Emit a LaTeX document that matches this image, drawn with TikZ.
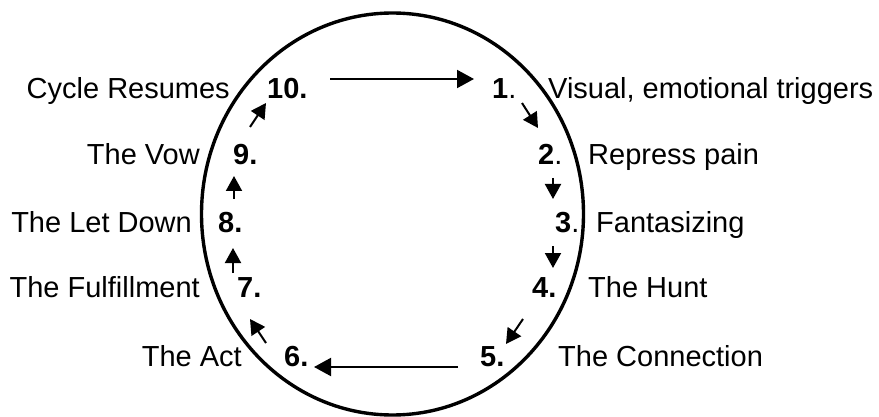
\documentclass[tikz,border=0pt]{standalone}
\usepackage{fontspec}
\setmainfont{Liberation Sans}
\usetikzlibrary{arrows.meta}
\begin{document}
\begin{tikzpicture}[x=1pt,y=-1pt,
  txt/.style={inner sep=0pt,font=\fontsize{29}{34}\selectfont},
  lbl/.style={txt,anchor=base east},
  rlbl/.style={txt,anchor=base west},
  num/.style={txt,anchor=base west},
  flow/.style={line width=2pt,-{Triangle[length=17pt,width=18pt]}},
  sflow/.style={line width=2pt,-{Triangle[length=15pt,width=16pt]}},
  ring/.style={line width=3.4pt}]
\useasboundingbox (0,0) rectangle (879,417);
\coordinate (c) at (392.5,214);
\draw[ring] (c) ellipse [x radius=191pt, y radius=201pt];
% numbers
\node[num] (n10) at (267,99) {\textbf{10.}};
\node[num] (n1) at (492,99) {\textbf{1}.};
\node[num] (n2) at (538,165) {\textbf{2}.};
\node[num] (n3) at (555,233) {\textbf{3}.};
\node[num] (n4) at (532,298) {\textbf{4.}};
\node[num] (n5) at (480,366) {\textbf{5.}};
\node[num] (n6) at (284,366) {\textbf{6.}};
\node[num] (n7) at (237,298) {\textbf{7.}};
\node[num] (n8) at (218,233) {\textbf{8.}};
\node[num] (n9) at (233,165) {\textbf{9.}};
% labels
\node[lbl] (l10) at (230,99) {Cycle Resumes};
\node[lbl] (l9) at (200,165) {The Vow};
\node[lbl] (l8) at (192,233) {The Let Down};
\node[lbl] (l7) at (200,298) {The Fulfillment};
\node[lbl] (l6) at (242,366) {The Act};
\node[rlbl] (l1) at (548,99) {Visual, emotional triggers};
\node[rlbl] (l2) at (588,165) {Repress pain};
\node[rlbl] (l3) at (596,233) {Fantasizing};
\node[rlbl] (l4) at (588,298) {The Hunt};
\node[rlbl] (l5) at (558,366) {The Connection};
% arrow end points
\coordinate (a1s) at (330,79);  \coordinate (a1e) at (474,79);
\coordinate (a2s) at (522,103); \coordinate (a2e) at (538,128);
\coordinate (a3s) at (553,178); \coordinate (a3e) at (553,199);
\coordinate (a4s) at (553,246); \coordinate (a4e) at (553,268);
\coordinate (a5s) at (523,319); \coordinate (a5e) at (506,344);
\coordinate (a6s) at (458,367); \coordinate (a6e) at (314,367);
\coordinate (a7s) at (266,343); \coordinate (a7e) at (250,319);
\coordinate (a8s) at (233,273); \coordinate (a8e) at (233,248);
\coordinate (a9s) at (234,199); \coordinate (a9e) at (234,176);
\coordinate (a10s) at (250,127); \coordinate (a10e) at (266,103);
\draw[flow] (a1s) -- (a1e);
\draw[sflow] (a2s) -- (a2e);
\draw[sflow] (a3s) -- (a3e);
\draw[sflow] (a4s) -- (a4e);
\draw[sflow] (a5s) -- (a5e);
\draw[flow] (a6s) -- (a6e);
\draw[sflow] (a7s) -- (a7e);
\draw[sflow] (a8s) -- (a8e);
\draw[sflow] (a9s) -- (a9e);
\draw[sflow] (a10s) -- (a10e);
\end{tikzpicture}
\end{document}
